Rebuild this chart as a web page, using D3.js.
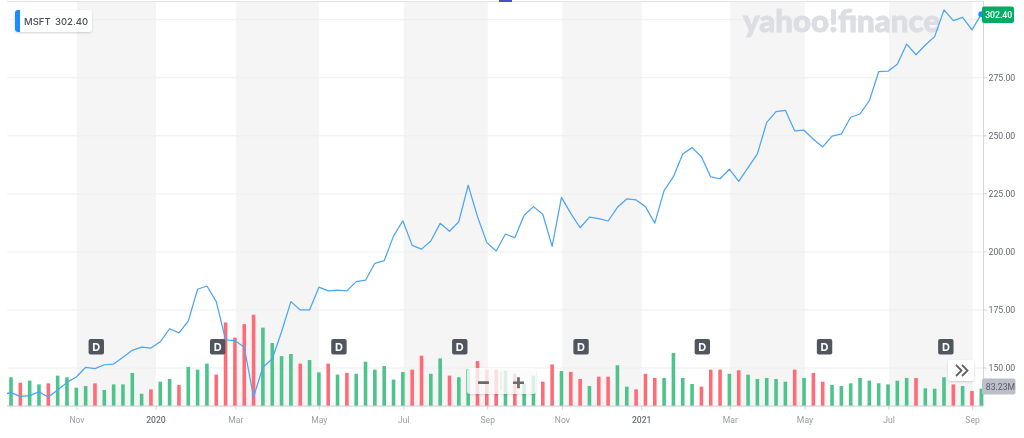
<!DOCTYPE html>
<html>
<head>
<meta charset="utf-8">
<script src="https://cdnjs.cloudflare.com/ajax/libs/d3/7.8.5/d3.min.js"></script>
<style>
html,body{margin:0;padding:0;background:#fff;width:1024px;height:438px;overflow:hidden}
svg{display:block;filter:blur(0.35px)}
text{font-family:Inter,"Liberation Sans",sans-serif}
</style>
</head>
<body>
<svg id="chart" width="1024" height="438"></svg>
<script>
// Weekly close prices (USD). leadPrice is the week before the first bar (clipped at left).
const leadPrice = 138.5;
const prices = [139.4,137.8,138.1,139.7,137.5,140.5,143.8,146.1,150.3,149.7,151.4,151.7,154.6,157.6,159.0,158.6,161.3,166.9,165.1,170.2,183.9,185.3,178.6,162.1,161.8,158.9,137.6,150.3,153.9,165.6,178.6,175.0,175.0,184.8,183.2,183.5,183.2,187.2,187.8,195.1,196.2,206.8,213.4,202.8,201.2,204.7,212.3,208.9,213.0,228.7,215.2,204.0,200.4,207.7,206.1,215.8,219.5,216.2,202.4,223.5,216.6,210.4,215.0,214.3,213.3,219.2,222.8,222.4,219.5,212.4,226.4,232.4,242.2,244.9,241.0,232.3,231.5,235.6,230.4,236.3,242.2,255.8,260.4,261.0,252.1,252.4,248.5,245.2,249.9,250.8,258.0,259.4,265.1,277.6,277.8,280.8,289.5,284.9,289.1,292.7,304.2,299.6,301.0,295.6,302.4];
// Weekly volume (millions of shares)
const volumes = [138,112,122,104,109,146,138,88,96,109,77,104,104,159,59,80,117,130,101,188,175,204,151,402,329,394,439,377,303,240,250,204,221,162,204,151,159,155,213,175,192,127,164,175,242,155,229,146,138,178,216,175,175,170,155,107,146,117,200,168,164,130,96,141,141,196,93,80,155,135,135,255,135,106,93,175,175,155,172,151,130,135,130,117,175,135,159,117,101,96,109,135,122,109,104,122,135,135,85,83,138,104,96,72,83.23];
// Bar direction: 1 = up (green), 0 = down (red)
const volumeUp = [1,0,1,1,0,1,1,1,1,0,1,1,1,1,1,0,1,1,0,1,1,1,0,0,0,0,0,1,1,1,1,0,1,1,0,1,0,1,1,1,1,1,1,0,0,1,1,0,1,1,0,0,0,1,0,1,1,0,0,1,0,0,1,0,0,1,1,0,0,0,1,1,1,1,0,0,0,1,0,1,1,1,1,1,0,1,0,0,1,1,1,1,1,1,1,1,1,0,1,1,1,0,1,0,1];
// Month tick labels and the week index where each falls
const tickLabels = ["Nov","2020","Mar","May","Jul","Sep","Nov","2021","Mar","May","Jul","Sep"];
const tickWeeks = [7.07,15.54,24.1,33.04,42.1,51.1,59.1,67.6,77.1,85.1,94.1,103.07];
const yearLabels = ["2020","2021"];
// Price axis labels
const priceTicks = [150,175,200,225,250,275];
const gridPrices = [150,175,200,225,250,275,300];
// Dividend markers (week index)
const dividendWeeks = [9.14,22.15,35.15,48.1,61.1,74.1,87.2,100.2];
const symbol = "MSFT";
const lastPrice = "302.40";
const lastVolume = "83.23M";

const svg = d3.select("#chart");
const x = d3.scaleLinear().domain([0,104]).range([11,981.3]);
const y = d3.scaleLinear().domain([150,300]).range([368,19.7]);
const yVol = d3.scaleLinear().domain([0,481]).range([406,306]);
const plotL = 7, plotR = 983.5, plotT = 1.5, plotB = 406;
const axisFont = "Roboto,'Liberation Sans',sans-serif";

svg.append("defs").html(`
  <clipPath id="plot"><rect x="${plotL}" y="0" width="${plotR-plotL}" height="${plotB}"/></clipPath>
  <filter id="sh" x="-20%" y="-30%" width="140%" height="170%"><feDropShadow dx="0" dy="1" stdDeviation="1.2" flood-color="#000" flood-opacity=".18"/></filter>`);

// alternating bands
const bandPairs = d3.range(0,tickWeeks.length,2).map(i=>[tickWeeks[i],tickWeeks[i+1]]);
svg.append("g").selectAll("rect").data(bandPairs).join("rect")
  .attr("x",d=>x(d[0])).attr("width",d=>x(d[1])-x(d[0]))
  .attr("y",plotT).attr("height",plotB-plotT).attr("fill","#f5f5f6");

// grid
svg.append("g").selectAll("line").data(gridPrices).join("line")
  .attr("x1",plotL).attr("x2",plotR).attr("y1",d=>y(d)).attr("y2",d=>y(d))
  .attr("stroke","#eeeeef").attr("stroke-width",1);
svg.append("line").attr("x1",plotL).attr("x2",plotR+1).attr("y1",plotT).attr("y2",plotT).attr("stroke","#e4e4e6").attr("stroke-width",1);

// watermark
svg.append("text").text("yahoo!finance").attr("x",743).attr("y",31.5)
  .attr("textLength",197).attr("lengthAdjust","spacingAndGlyphs")
  .style("font-family","Lato,'Open Sans',sans-serif").style("font-weight",900).style("font-size","31px")
  .attr("fill","#dcdee3").attr("stroke","#dcdee3").attr("stroke-width",0.9);

// volume bars
const plot = svg.append("g").attr("clip-path","url(#plot)");
plot.selectAll("rect").data(volumes).join("rect")
  .attr("x",(d,i)=>x(i)-1.8).attr("width",3.6)
  .attr("y",d=>yVol(d)).attr("height",d=>yVol(0)-yVol(d))
  .attr("fill",(d,i)=>volumeUp[i]?"#4cc48c":"#ff6b76");

// price line
const series = [leadPrice,...prices];
plot.append("path").datum(series)
  .attr("fill","none").attr("stroke","#4ca5f5").attr("stroke-width",1.25).attr("stroke-linejoin","round")
  .attr("d",d3.line().x((d,i)=>x(i-1)).y(d=>y(d)));

// axes lines
svg.append("line").attr("x1",plotL).attr("x2",plotR).attr("y1",plotB).attr("y2",plotB).attr("stroke","#c9cbcf");
svg.append("line").attr("x1",plotR).attr("x2",plotR).attr("y1",plotT).attr("y2",plotB).attr("stroke","#d4d5d8");

// x ticks
const xt = svg.append("g").selectAll("g").data(tickLabels).join("g")
  .attr("transform",(d,i)=>`translate(${x(tickWeeks[i])},${plotB})`);
xt.append("line").attr("y2",3.5).attr("stroke","#cfd1d4");
xt.append("text").text(d=>d).attr("y",16.5).attr("text-anchor","middle")
  .style("font-family",axisFont).style("font-size","8.6px")
  .style("font-weight",d=>yearLabels.includes(d)?500:400)
  .attr("fill",d=>yearLabels.includes(d)?"#6b7077":"#9a9da3");

// y ticks
const yt = svg.append("g").selectAll("g").data(priceTicks).join("g")
  .attr("transform",d=>`translate(${plotR},${y(d)})`);
yt.append("line").attr("x2",3.5).attr("stroke","#d4d5d8");
yt.append("text").text(d=>d3.format(".2f")(d)).attr("x",5).attr("dy","0.35em")
  .style("font-family",axisFont).style("font-size","8.7px").attr("fill","#63676d");

// last price dot and badge
svg.append("circle").attr("cx",x(104)).attr("cy",y(302.4)).attr("r",3).attr("fill","#1a8cff");
svg.append("rect").attr("x",982).attr("y",6.5).attr("width",32).attr("height",16.5).attr("rx",2).attr("fill","#00ad63");
svg.append("text").text(lastPrice).attr("x",998.7).attr("y",18).attr("text-anchor","middle")
  .style("font-family",axisFont).style("font-size","8.7px").style("font-weight",500).attr("fill","#fff");

// volume badge
svg.append("rect").attr("x",982).attr("y",378.5).attr("width",33.5).attr("height",16).attr("rx",2).attr("fill","#bcbfc8");
svg.append("text").text(lastVolume).attr("x",1000.5).attr("y",389.7).attr("text-anchor","middle")
  .style("font-family",axisFont).style("font-size","8.7px").attr("fill","#5a5e66");

// dividend markers
const dg = svg.append("g").selectAll("g").data(dividendWeeks).join("g")
  .attr("transform",d=>`translate(${x(d)},346.7)`);
dg.append("rect").attr("x",-7.7).attr("y",-7.7).attr("width",15.4).attr("height",15.4).attr("rx",2).attr("fill","#50555e");
dg.append("text").text("D").attr("text-anchor","middle").attr("dy","0.37em")
  .style("font-size","11px").style("font-weight",700).attr("fill","#fff");

// symbol chip
svg.append("rect").attr("x",15).attr("y",10).attr("width",77).attr("height",22).attr("rx",3).attr("fill","#fff").attr("filter","url(#sh)");
svg.append("path").attr("d","M20 10h-2a3 3 0 0 0-3 3v16a3 3 0 0 0 3 3h2z").attr("fill","#1a8cff");
svg.append("text").text(symbol).attr("x",24).attr("y",25).style("font-size","9.5px").style("font-weight",500).attr("fill","#4a5058");
svg.append("text").text(lastPrice).attr("x",55).attr("y",25).style("font-size","9.5px").style("font-weight",500).attr("fill","#4a5058");

// zoom control
svg.append("rect").attr("x",467).attr("y",368).attr("width",69).attr("height",26).attr("rx",3).attr("fill","#fff").attr("fill-opacity",.78).attr("filter","url(#sh)");
svg.append("line").attr("x1",501).attr("x2",501).attr("y1",372).attr("y2",390).attr("stroke","#e6e6e6");
svg.append("text").text("−").attr("x",483.5).attr("y",388.5).attr("text-anchor","middle").style("font-size","22px").style("font-weight",700).attr("fill","#6b6b6b");
svg.append("text").text("+").attr("x",518.5).attr("y",388.5).attr("text-anchor","middle").style("font-size","22px").style("font-weight",700).attr("fill","#6b6b6b");

// scroll-to-latest control
svg.append("rect").attr("x",948).attr("y",360).attr("width",26).attr("height",21).attr("rx",3).attr("fill","#fff").attr("filter","url(#sh)");
svg.append("path").attr("d","M956 365l5.5 5.5-5.5 5.5M962 365l5.5 5.5-5.5 5.5").attr("fill","none").attr("stroke","#5f6368").attr("stroke-width",1.8);

// top marker
svg.append("rect").attr("x",499).attr("y",0).attr("width",13).attr("height",2).attr("fill","#4a4fc9");
</script>
</body>
</html>
